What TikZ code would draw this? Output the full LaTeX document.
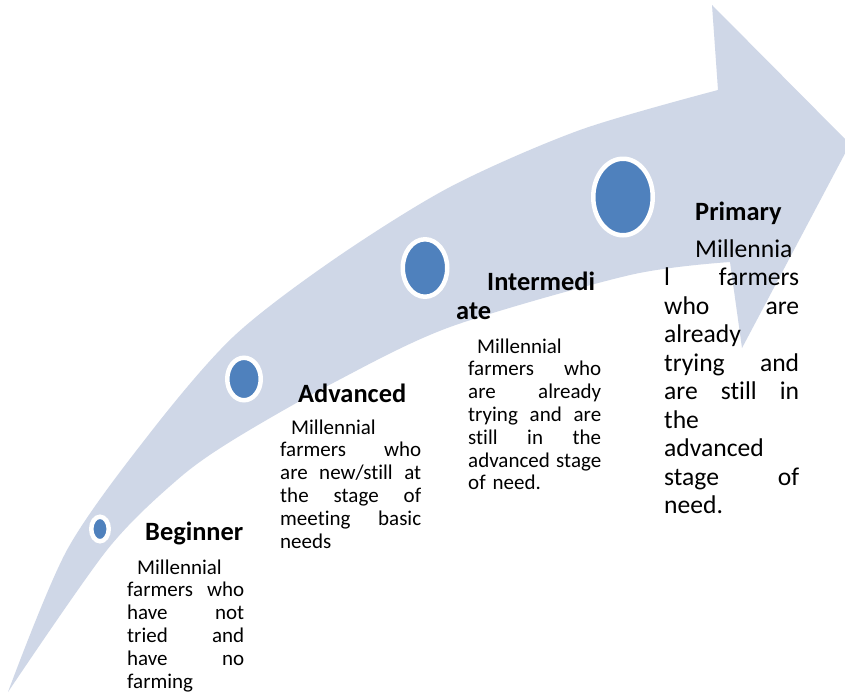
\documentclass[tikz,border=0pt]{standalone}
\usepackage{fontspec}
\setmainfont[Ligatures={NoCommon}]{Carlito}
\usetikzlibrary{shapes.geometric}

\definecolor{bandgray}{RGB}{207,215,231}
\definecolor{dotblue}{RGB}{79,129,189}

\newcommand{\stagehead}{\fontsize{26.4}{29}\selectfont\bfseries}
\newcommand{\stagebody}{\fontsize{21}{22.8}\selectfont}
\newcommand{\stagebodylarge}{\fontsize{25.6}{28.5}\selectfont}

\begin{document}
\begin{tikzpicture}[x=1pt,y=-1pt]
	\tikzstyle{stage_dot}=[ellipse, draw=white, line width=4.5pt, fill=dotblue, inner sep=0pt];
	\tikzstyle{stage_title}=[anchor=base west, inner sep=0pt, font=\stagehead];
	\tikzstyle{stage_text}=[anchor=base west, inner sep=0pt, font=\stagebody];

	\clip (0,0) rectangle (845,697);
	\fill[white] (0,0) rectangle (845,697);

	% the curved arrow
	\fill[bandgray] plot[smooth] coordinates {(8,692) (67,550) (150,433) (233,337) (333,260) (450,187) (580,130) (718,90)}
		-- (712,5) -- (850,144) -- (742,348)
		-- plot[smooth] coordinates {(730,262) (630,275) (450,327) (333,383) (233,440) (177,480) (107,550) (8,692)} -- cycle;

	% dots along the arrow
	\node[stage_dot, minimum width=17.5pt, minimum height=24.5pt] (dot_beg) at (100,529) {};
	\node[stage_dot, minimum width=33.5pt, minimum height=42.5pt] (dot_adv) at (244,379) {};
	\node[stage_dot, minimum width=44.5pt, minimum height=57.5pt] (dot_int) at (425,268) {};
	\node[stage_dot, minimum width=59.5pt, minimum height=76.5pt] (dot_pri) at (623,197) {};

	% Beginner
	\node[stage_title] (title_beg) at (145,540) {Beginner};
	\node[stage_text, text width=117pt] (text_beg) at (127,574) {\hspace*{10pt}Millennial\\
		farmers\hfill who\\
		have\hfill not\\
		tried\hfill and\\
		have\hfill no\\
		farming};

	% Advanced
	\node[stage_title] (title_adv) at (298,402) {Advanced};
	\node[stage_text, text width=141pt] (text_adv) at (280,434) {\hspace*{11pt}Millennial\\
		farmers\hfill who\\
		are\hfill new/still\hfill at\\
		the\hfill stage\hfill of\\
		meeting\hfill basic\\
		needs};

	% Intermediate
	\node[stage_title, text width=145pt] (title_int) at (456,290) {\hspace*{31pt}\mbox{Intermedi}\\ate};
	\node[stage_text, text width=133pt] (text_int) at (468,353) {\hspace*{9pt}Millennial\\
		farmers\hfill who\\
		are\hfill already\\
		trying\hfill and\hfill are\\
		still\hfill in\hfill the\\
		advanced\hfill stage\\
		of need.};

	% Primary
	\node[stage_title] (title_pri) at (695,220) {Primary};
	\node[stage_text, font=\stagebodylarge, text width=135pt] (text_pri) at (664,257) {\hspace*{31pt}Millennia\\
		l\hfill farmers\\
		who\hfill are\\
		already\\
		trying\hfill and\\
		are\hfill still\hfill in\\
		the\\
		advanced\\
		stage\hfill of\\
		need.};
\end{tikzpicture}
\end{document}
